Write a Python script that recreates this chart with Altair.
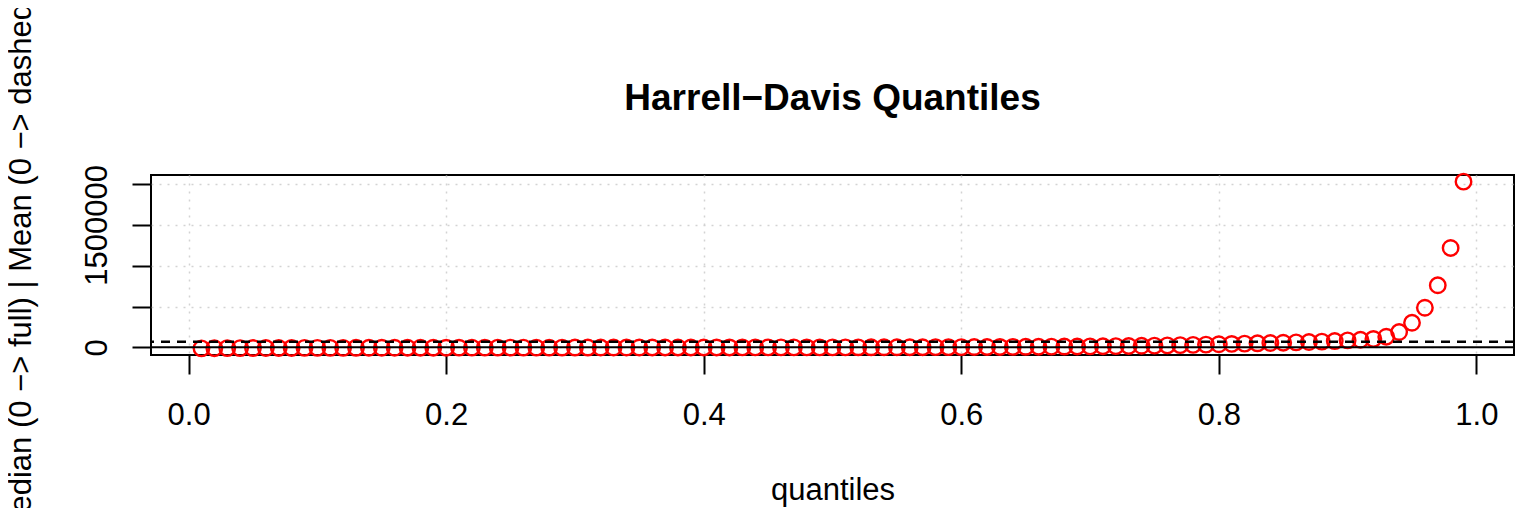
import altair as alt
import pandas as pd

FONT = "Liberation Sans"

quantiles = [
    0.01, 0.02, 0.03, 0.04, 0.05, 0.06, 0.07, 0.08, 0.09, 0.10,
    0.11, 0.12, 0.13, 0.14, 0.15, 0.16, 0.17, 0.18, 0.19, 0.20,
    0.21, 0.22, 0.23, 0.24, 0.25, 0.26, 0.27, 0.28, 0.29, 0.30,
    0.31, 0.32, 0.33, 0.34, 0.35, 0.36, 0.37, 0.38, 0.39, 0.40,
    0.41, 0.42, 0.43, 0.44, 0.45, 0.46, 0.47, 0.48, 0.49, 0.50,
    0.51, 0.52, 0.53, 0.54, 0.55, 0.56, 0.57, 0.58, 0.59, 0.60,
    0.61, 0.62, 0.63, 0.64, 0.65, 0.66, 0.67, 0.68, 0.69, 0.70,
    0.71, 0.72, 0.73, 0.74, 0.75, 0.76, 0.77, 0.78, 0.79, 0.80,
    0.81, 0.82, 0.83, 0.84, 0.85, 0.86, 0.87, 0.88, 0.89, 0.90,
    0.91, 0.92, 0.93, 0.94, 0.95, 0.96, 0.97, 0.98, 0.99,
]

hd_values = [
    -12000, -10800, -9900, -9200, -8600, -8100, -7600, -7200, -6800, -6500,
    -6200, -5900, -5600, -5400, -5100, -4900, -4700, -4500, -4300, -4100,
    -3900, -3800, -3600, -3400, -3300, -3100, -3000, -2800, -2700, -2500,
    -2400, -2200, -2100, -2000, -1800, -1700, -1600, -1400, -1300, -1200,
    -1100, -900, -800, -700, -600, -500, -300, -200, -100, 0,
    200, 400, 600, 900, 1200, 1500, 1900, 2300, 2800, 3300,
    3900, 4500, 5200, 5900, 6700, 7600, 8600, 9700, 10900, 12200,
    13700, 15300, 17100, 19200, 21500, 24100, 27000, 30300, 34000, 38000,
    42000, 46000, 49500, 53000, 57000, 61000, 65000, 70000, 77000, 85000,
    93000, 103000, 130000, 188000, 301000, 485000, 760000, 1217000, 2029000,
]

median_level = [0]
mean_level = [69000]

x_ticks = [0.0, 0.2, 0.4, 0.6, 0.8, 1.0]
y_ticks = [0, 500000, 1000000, 1500000, 2000000]

title_text = ["Harrell−Davis Quantiles"]

df = pd.DataFrame({"q": quantiles, "v": hd_values})

x_scale = alt.Scale(domain=[-0.0292, 1.0292], nice=False, zero=False)
y_scale = alt.Scale(domain=[-93600, 2110600], nice=False, zero=False)

points = alt.Chart(df).mark_circle(
    filled=False, stroke="#FF0000", fill=None, opacity=1, strokeOpacity=1,
    size=240, strokeWidth=2.4,
).encode(
    x=alt.X("q:Q", scale=x_scale, axis=alt.Axis(
        values=x_ticks, format=".1f", title="quantiles",
        labelPadding=50, labelBaseline="alphabetic", labelAngle=0,
        labelFlush=False, labelOverlap=False,
        titleX=681.5, titleY=144, titleAlign="center",
        titleBaseline="alphabetic",
    )),
    y=alt.Y("v:Q", scale=y_scale, axis=alt.Axis(
        values=y_ticks, format="d",
        labelExpr="(datum.value == 0 || datum.value == 1500000) ? datum.label : ''",
        labelAngle=270, labelAlign="center", labelBaseline="alphabetic",
        labelPadding=26, labelOverlap=False, labelFlush=False,
        title="Median (0 −> full) | Mean (0 −> dashed)",
        titleAngle=270, titleX=-121, titleY=90, titleAlign="center",
        titleBaseline="alphabetic",
    )),
)

median_rule = alt.Chart(pd.DataFrame({"v": median_level})).mark_rule(
    color="black", strokeWidth=2
).encode(y=alt.Y("v:Q", scale=y_scale))

mean_rule = alt.Chart(pd.DataFrame({"v": mean_level})).mark_rule(
    color="black", strokeWidth=2.4, strokeDash=[9, 7]
).encode(y=alt.Y("v:Q", scale=y_scale))

title_mark = alt.Chart(pd.DataFrame({"t": title_text})).mark_text(
    font=FONT, fontSize=37, fontWeight="bold", color="black",
    align="center", baseline="alphabetic",
).encode(
    text="t:N",
    x=alt.value(681.5),
    y=alt.value(-65.5),
)

chart = alt.layer(points, median_rule, mean_rule, title_mark).properties(
    width=1363,
    height=180,
    autosize=alt.AutoSizeParams(type="none"),
    padding={"left": 143, "top": 167, "right": 4, "bottom": 153},
    background="white",
).configure_view(
    stroke="black", strokeWidth=2
).configure_axis(
    domain=False,
    tickColor="black", tickWidth=2, tickSize=19,
    labelFont=FONT, labelFontSize=31, labelColor="black",
    titleFont=FONT, titleFontSize=31, titleFontWeight="normal", titleColor="black",
    grid=True, gridColor="#D3D3D3", gridDash=[2, 6], gridWidth=1.5,
)

chart.save("out.html", embed_options={"renderer": "svg", "actions": False})
